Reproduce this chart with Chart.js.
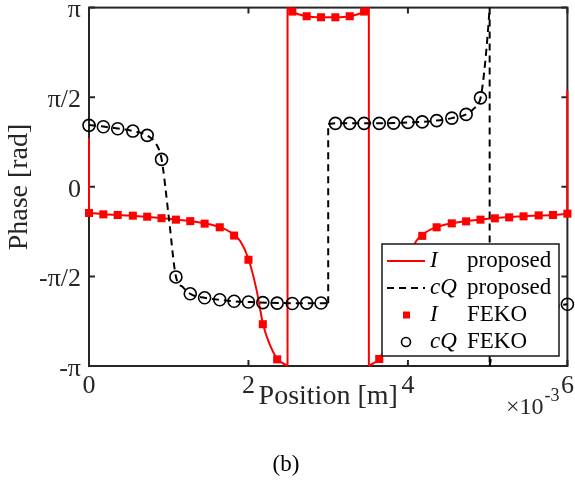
<!DOCTYPE html>
<html>
<head>
<meta charset="utf-8">
<script src="https://cdn.jsdelivr.net/npm/chart.js@4"></script>
<style>
  body { margin: 0; background: #fff; }
  canvas { display: block; }
</style>
</head>
<body>
<canvas id="phaseChart" width="575" height="486"></canvas>
<script>
// sample positions of the FEKO solution (x 1e-3 m)
const fekoPos = [0, 0.18, 0.36, 0.55, 0.73, 0.91, 1.09, 1.27, 1.45, 1.64, 1.82, 2.0, 2.18, 2.36,
  2.55, 2.73, 2.91, 3.09, 3.27, 3.45, 3.64, 3.82, 4.0, 4.18, 4.36, 4.55, 4.73, 4.91, 5.09, 5.27,
  5.45, 5.64, 5.82, 6.0];
// phase of I from FEKO [rad]
const iFeko = [-0.459, -0.483, -0.494, -0.506, -0.524, -0.550, -0.576, -0.602, -0.646, -0.710,
  -0.855, -1.279, -2.409, -3.025, 3.072, 2.990, 2.972, 2.972, 2.990, 3.072, -3.019, -2.409,
  -1.274, -0.860, -0.710, -0.641, -0.606, -0.576, -0.553, -0.536, -0.518, -0.501, -0.494, -0.471];
// phase of cQ from FEKO [rad]
const cqFeko = [1.077, 1.052, 1.018, 0.977, 0.902, 0.480, -1.580, -1.876, -1.946, -1.981, -2.007,
  -2.019, -2.030, -2.039, -2.046, -2.039, -2.037, 1.112, 1.112, 1.112, 1.112, 1.117, 1.129, 1.138,
  1.161, 1.204, 1.269, 1.559, -2.653, -2.391, -2.234, -2.147, -2.094, -2.059];

// proposed method, I (a repeated position is a jump)
const iPropPos = [0, 0, 0.18, 0.5, 0.9, 1.2, 1.45, 1.64, 1.8, 1.9, 2.0, 2.1, 2.18, 2.25, 2.36, 2.49,
  2.49, 2.55, 2.73, 2.91, 3.09, 3.27, 3.45, 3.51, 3.51, 3.64, 3.75, 3.82, 3.9, 4.0, 4.1, 4.2, 4.36,
  4.55, 4.8, 5.1, 5.5, 5.82, 6.0, 6.0];
const iProp = [0.855, -0.454, -0.480, -0.503, -0.546, -0.590, -0.642, -0.707, -0.820, -0.960,
  -1.265, -1.798, -2.391, -2.705, -3.011, -Math.PI, Math.PI, 3.072, 2.990, 2.972, 2.972, 2.990,
  3.072, Math.PI, -Math.PI, -3.011, -2.705, -2.391, -1.798, -1.265, -0.960, -0.820, -0.707, -0.642,
  -0.590, -0.546, -0.511, -0.494, -0.471, 1.693];

// proposed method, cQ
const cqPropPos = [0, 0.18, 0.36, 0.55, 0.73, 0.85, 0.91, 1.0, 1.09, 1.18, 1.27, 1.45, 1.64, 1.82,
  2.0, 2.36, 2.73, 3.0, 3.0, 3.09, 3.45, 3.82, 4.0, 4.18, 4.36, 4.55, 4.73, 4.82, 4.91, 4.94, 4.97,
  5.0, 5.025, 5.025, 5.09, 5.27, 5.45, 5.64, 5.82, 6.0];
const cqProp = [1.082, 1.056, 1.021, 0.977, 0.899, 0.733, 0.489, -0.524, -1.571, -1.763, -1.876,
  -1.946, -1.981, -2.007, -2.019, -2.037, -2.042, -2.042, 1.100, 1.112, 1.112, 1.117, 1.129, 1.138,
  1.161, 1.204, 1.269, 1.361, 1.553, 1.815, 2.199, 2.670, Math.PI, -Math.PI, -2.653, -2.391,
  -2.234, -2.147, -2.094, -2.059];

const xTicks = [0, 2, 4, 6];
const yTicks = [-Math.PI, -Math.PI / 2, 0, Math.PI / 2, Math.PI];
const yTickLabels = ['-π', '-π/2', '0', 'π/2', 'π'];
const legendItems = [['I', 'proposed'], ['cQ', 'proposed'], ['I', 'FEKO'], ['cQ', 'FEKO']];

const AXIS = '#262626';
const RED = '#ff0000';
const FONT = '"Liberation Serif", "Times New Roman", serif';
const DASH = [7, 5];

Chart.defaults.font.family = FONT;
Chart.defaults.color = AXIS;

// break a curve at repeated positions: smooth pieces plus the vertical jumps
function splitCurve(xs, ys) {
  const pieces = [], jumps = [];
  let cur = [];
  for (let i = 0; i < xs.length; i++) {
    if (i > 0 && xs[i] === xs[i - 1]) {
      jumps.push([{ x: xs[i - 1], y: ys[i - 1] }, { x: xs[i], y: ys[i] }]);
      if (cur.length > 1) pieces.push(cur);
      cur = [];
    }
    cur.push({ x: xs[i], y: ys[i] });
  }
  if (cur.length > 1) pieces.push(cur);
  return { pieces, jumps };
}

function curveSets(xs, ys, color, dash) {
  const { pieces, jumps } = splitCurve(xs, ys);
  const base = { showLine: true, borderColor: color, borderWidth: 2, borderDash: dash,
    pointRadius: 0, fill: false, clip: 3 };
  return [
    ...pieces.map(p => ({ ...base, data: p, cubicInterpolationMode: 'monotone' })),
    ...jumps.map(j => ({ ...base, data: j, tension: 0 }))
  ];
}

const zip = (xs, ys) => xs.map((x, i) => ({ x, y: ys[i] }));

// first dataset ends up on top
const datasets = [
  { data: zip(fekoPos, cqFeko), pointStyle: 'circle', pointRadius: 6, borderWidth: 1.6,
    borderColor: '#000', backgroundColor: 'rgba(0,0,0,0)', showLine: false, clip: false },
  { data: zip(fekoPos, iFeko), pointStyle: 'rect', pointRadius: 5.7, borderWidth: 0,
    backgroundColor: RED, borderColor: RED, showLine: false, clip: false },
  ...curveSets(cqPropPos, cqProp, '#000', DASH),
  ...curveSets(iPropPos, iProp, RED, [])
];

const frame = {
  id: 'frame',
  beforeDatasetsDraw(chart) {
    const { ctx, chartArea: a, scales: { x, y } } = chart;
    ctx.save();
    ctx.strokeStyle = AXIS;
    ctx.lineWidth = 2;
    ctx.beginPath();
    xTicks.forEach(v => {
      const px = x.getPixelForValue(v);
      ctx.moveTo(px, a.bottom); ctx.lineTo(px, a.bottom - 6);
      ctx.moveTo(px, a.top); ctx.lineTo(px, a.top + 6);
    });
    yTicks.forEach(v => {
      const py = y.getPixelForValue(v);
      ctx.moveTo(a.left, py); ctx.lineTo(a.left + 6, py);
      ctx.moveTo(a.right, py); ctx.lineTo(a.right - 6, py);
    });
    ctx.stroke();
    ctx.strokeRect(a.left, a.top, a.right - a.left, a.bottom - a.top);
    ctx.restore();
  },
  afterDraw(chart) {
    const { ctx, chartArea: a } = chart;
    ctx.save();
    ctx.fillStyle = AXIS;

    // axis labels
    ctx.font = '28px ' + FONT;
    ctx.textAlign = 'center';
    ctx.textBaseline = 'middle';
    ctx.fillText('Position [m]', (a.left + a.right) / 2, 397);
    ctx.save();
    ctx.translate(27, 187);
    ctx.rotate(-Math.PI / 2);
    ctx.textBaseline = 'alphabetic';
    ctx.fillText('Phase [rad]', 0, 0);
    ctx.restore();

    // exponent of the x axis
    ctx.textAlign = 'left';
    ctx.textBaseline = 'alphabetic';
    ctx.font = '24px ' + FONT;
    ctx.fillText('×10', 506, 414);
    const w = ctx.measureText('×10').width;
    ctx.font = '18px ' + FONT;
    ctx.fillText('-3', 506 + w + 1, 401);

    // panel tag
    ctx.font = '23px ' + FONT;
    ctx.textAlign = 'center';
    ctx.textBaseline = 'middle';
    ctx.fillStyle = '#000';
    ctx.fillText('(b)', 286, 465);

    // legend box
    const box = { x: 382, y: 244, w: 177, h: 112 };
    ctx.fillStyle = '#fff';
    ctx.fillRect(box.x, box.y, box.w, box.h);
    ctx.strokeStyle = AXIS;
    ctx.lineWidth = 1.6;
    ctx.strokeRect(box.x, box.y, box.w, box.h);

    legendItems.forEach(([sym, name], i) => {
      const ry = 261 + i * 27;
      ctx.save();
      if (i === 0 || i === 1) {
        ctx.strokeStyle = i === 0 ? RED : '#000';
        ctx.lineWidth = 2;
        ctx.setLineDash(i === 0 ? [] : DASH);
        ctx.beginPath();
        ctx.moveTo(387, ry); ctx.lineTo(425, ry);
        ctx.stroke();
      } else if (i === 2) {
        ctx.fillStyle = RED;
        ctx.fillRect(403, ry - 3.5, 7, 7);
      } else {
        ctx.strokeStyle = '#000';
        ctx.lineWidth = 1.6;
        ctx.beginPath();
        ctx.arc(406, ry, 4.5, 0, Math.PI * 2);
        ctx.stroke();
      }
      ctx.restore();
      ctx.fillStyle = '#000';
      ctx.textAlign = 'left';
      ctx.textBaseline = 'middle';
      ctx.font = 'italic 23px ' + FONT;
      ctx.fillText(sym, 430, ry);
      ctx.font = '23px ' + FONT;
      ctx.fillText(name, 467, ry);
    });
    ctx.restore();
  }
};

new Chart(document.getElementById('phaseChart'), {
  type: 'scatter',
  data: { datasets },
  options: {
    responsive: false,
    animation: false,
    events: [],
    layout: { padding: { left: 0, right: 6, top: 6, bottom: 0 } },
    plugins: { legend: { display: false }, tooltip: { enabled: false } },
    scales: {
      x: {
        type: 'linear', min: 0, max: 6, offset: false,
        grid: { display: false, drawTicks: false },
        border: { display: false },
        afterBuildTicks: s => { s.ticks = xTicks.map(v => ({ value: v })); },
        afterFit: s => { s.height = 120; s.paddingLeft = 0; s.paddingRight = 0; },
        ticks: { font: { size: 26 }, padding: 5, maxRotation: 0, color: AXIS }
      },
      y: {
        type: 'linear', min: -Math.PI, max: Math.PI, offset: false,
        grid: { display: false, drawTicks: false },
        border: { display: false },
        afterBuildTicks: s => { s.ticks = yTicks.map(v => ({ value: v })); },
        afterFit: s => { s.width = 89; s.paddingTop = 0; s.paddingBottom = 0; },
        ticks: {
          font: { size: 26 }, padding: 8, labelOffset: 3, color: AXIS,
          callback: (v, i) => yTickLabels[i]
        }
      }
    }
  },
  plugins: [frame]
});
</script>
</body>
</html>
